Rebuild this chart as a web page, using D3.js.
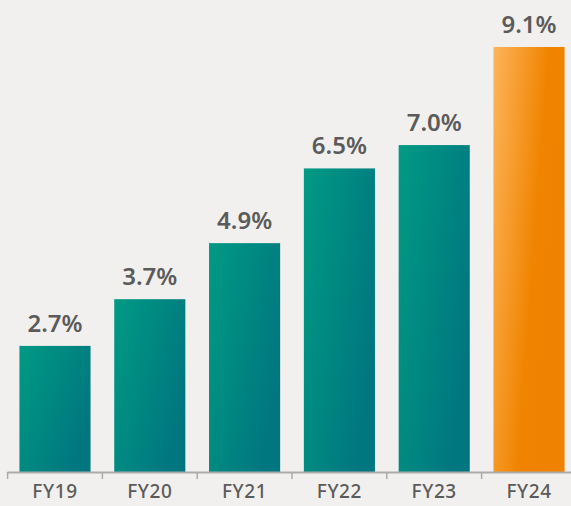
<!DOCTYPE html>
<html>
<head>
<meta charset="utf-8">
<script src="https://cdn.jsdelivr.net/npm/d3@7"></script>
<style>
  html, body { margin: 0; padding: 0; background: #f2f0ee; }
  svg { display: block; }
</style>
</head>
<body>
<svg id="chart" width="571" height="506"></svg>
<script>
// data
const years = ["FY19", "FY20", "FY21", "FY22", "FY23", "FY24"];
const values = [2.7, 3.7, 4.9, 6.5, 7.0, 9.1];
const highlight = ["FY24"];

const width = 571, height = 506;
const margin = { top: 47, right: 0, bottom: 34, left: 9 };
const innerHeight = height - margin.bottom;

const svg = d3.select("#chart");

const defs = svg.append("defs");
const teal = defs.append("linearGradient")
    .attr("id", "grad-teal")
    .attr("x1", "0%").attr("y1", "0%").attr("x2", "100%").attr("y2", "60%");
teal.append("stop").attr("offset", "0%").attr("stop-color", "#009a84");
teal.append("stop").attr("offset", "100%").attr("stop-color", "#00767f");

const orange = defs.append("linearGradient")
    .attr("id", "grad-orange")
    .attr("x1", "0%").attr("y1", "0%").attr("x2", "100%").attr("y2", "45%");
orange.append("stop").attr("offset", "0%").attr("stop-color", "#fdb45c");
orange.append("stop").attr("offset", "65%").attr("stop-color", "#f08400");
orange.append("stop").attr("offset", "100%").attr("stop-color", "#ef8200");

const x = d3.scaleBand()
    .domain(years)
    .range([margin.left, width + 4])
    .paddingInner(0.25)
    .paddingOuter(0.11);

const y = d3.scaleLinear()
    .domain([0, 9.1])
    .range([innerHeight, margin.top]);

// bars
svg.append("g")
    .selectAll("rect")
    .data(years)
    .join("rect")
    .attr("x", d => x(d))
    .attr("y", (d, i) => y(values[i]))
    .attr("width", x.bandwidth())
    .attr("height", (d, i) => innerHeight - y(values[i]) + 1)
    .attr("fill", d => highlight.includes(d) ? "url(#grad-orange)" : "url(#grad-teal)");

// value labels
svg.append("g")
    .selectAll("text")
    .data(years)
    .join("text")
    .attr("x", d => x(d) + x.bandwidth() / 2)
    .attr("y", (d, i) => y(values[i]) - 14)
    .attr("text-anchor", "middle")
    .attr("font-family", "'Noto Sans', sans-serif")
    .attr("font-weight", "600")
    .attr("font-size", 24)
    .attr("fill", "#5b5b5b")
    .text((d, i) => values[i].toFixed(1) + "%");

// axis line with tick marks between bars
const step = x.step();
const tickXs = years.map(d => x(d) - (step - x.bandwidth()) / 2);
const axis = svg.append("g").attr("class", "x-axis");
axis.append("line")
    .attr("x1", tickXs[0]).attr("x2", width)
    .attr("y1", innerHeight + 0.5).attr("y2", innerHeight + 0.5)
    .attr("stroke", "#ababab")
    .attr("stroke-width", 2);
axis.selectAll(".tick-mark")
    .data(tickXs)
    .join("line")
    .attr("class", "tick-mark")
    .attr("x1", d => d).attr("x2", d => d)
    .attr("y1", innerHeight).attr("y2", innerHeight + 7)
    .attr("stroke", "#ababab")
    .attr("stroke-width", 1.5);

axis.selectAll("text")
    .data(years)
    .join("text")
    .attr("x", d => x(d) + x.bandwidth() / 2)
    .attr("y", innerHeight + 26)
    .attr("text-anchor", "middle")
    .attr("font-family", "'Noto Sans', sans-serif")
    .attr("font-weight", "500")
    .attr("font-size", 19)
    .attr("letter-spacing", "0.6px")
    .attr("fill", "#5b5b5b")
    .text(d => d);
</script>
</body>
</html>
